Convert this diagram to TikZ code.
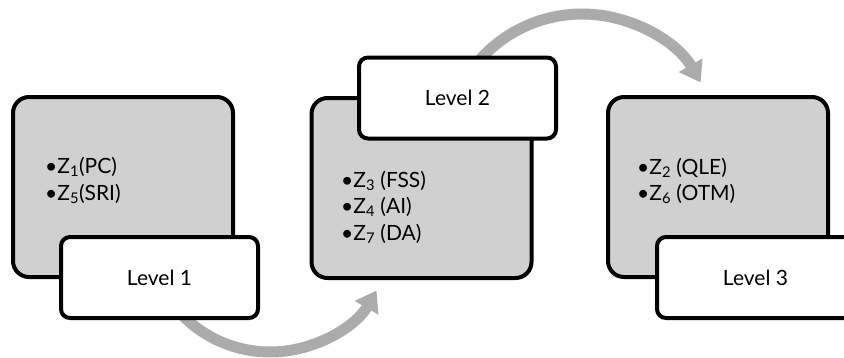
\documentclass[tikz,border=0pt]{standalone}
\usepackage{fontspec}
\setmainfont{Lato}
\usetikzlibrary{arrows.meta}
\definecolor{boxgray}{RGB}{208,208,208}
\definecolor{arrowgray}{RGB}{171,171,171}
\tikzset{
	stagebox/.style = {draw, line width=4pt, fill=boxgray, rounded corners=16pt,
		minimum width=220pt, minimum height=180pt, inner sep=0pt},
	levelbox/.style = {draw, line width=4pt, fill=white, rounded corners=9pt,
		minimum width=197pt, minimum height=81pt, inner sep=0pt,
		font=\fontsize{21}{25}\selectfont},
	entry/.style = {anchor=base west, inner sep=0pt, text height=16pt, text depth=5pt,
		font=\fontsize{21}{25}\selectfont},
	flow/.style = {draw=arrowgray, line width=11pt, -{Triangle[width=26pt, length=20pt]}}
}
\begin{document}
\begin{tikzpicture}[x=1pt, y=1pt]
	\useasboundingbox (0, 0) rectangle (844, -357);
	% arc centres of the two arrows
	\coordinate (c1) at (270, -229);
	\coordinate (c2) at (582, -151);
	% arrows
	\draw[flow] ([shift={(215:123)}]c1) arc[start angle=215, end angle=330, radius=123];
	\draw[flow] ([shift={(145:137)}]c2) arc[start angle=145, end angle=30, radius=137];
	% grey boxes
	\node[stagebox] (stage1) at (123,   -187) {};
	\node[stagebox] (stage2) at (421.5, -188) {};
	\node[stagebox] (stage3) at (718,   -187) {};
	% items
	\node[entry] (z1) at (45,  -173) {•Z\textsubscript{1}(PC)};
	\node[entry] (z5) at (45,  -200) {•Z\textsubscript{5}(SRI)};
	\node[entry] (z3) at (341, -187) {•Z\textsubscript{3} (FSS)};
	\node[entry] (z4) at (341, -213) {•Z\textsubscript{4} (AI)};
	\node[entry] (z7) at (341, -240) {•Z\textsubscript{7} (DA)};
	\node[entry] (z2) at (637, -174) {•Z\textsubscript{2} (QLE)};
	\node[entry] (z6) at (637, -200) {•Z\textsubscript{6} (OTM)};
	% level labels
	\node[levelbox] (level1) at (159.5, -277.5) {Level 1};
	\node[levelbox] (level2) at (457.5, -98)    {Level 2};
	\node[levelbox] (level3) at (755.5, -277.5) {Level 3};
\end{tikzpicture}
\end{document}
